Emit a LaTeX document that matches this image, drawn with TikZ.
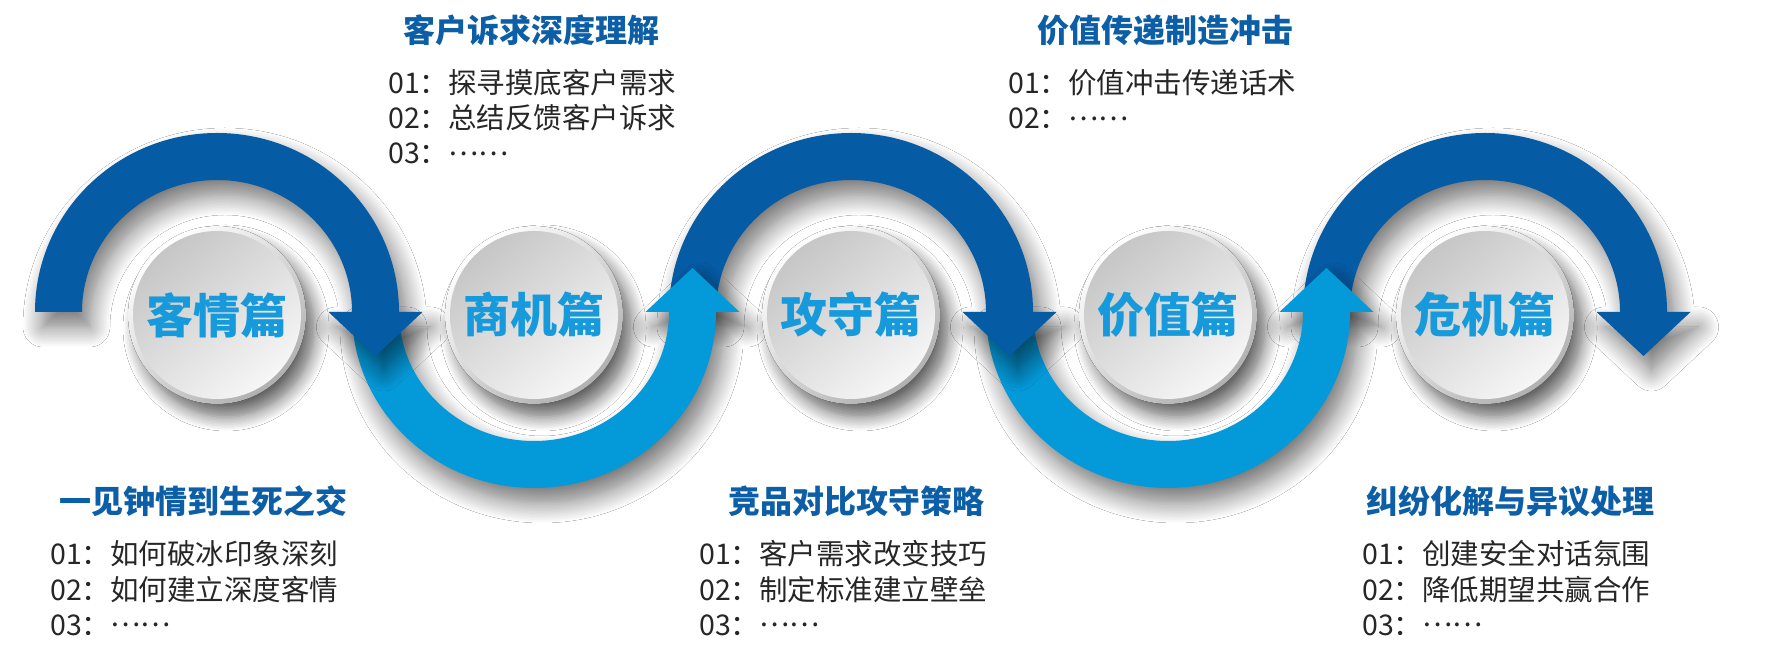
\documentclass[tikz,border=0pt]{standalone}
\usepackage{fontspec}
\setmainfont{Noto Sans CJK SC}
\newfontfamily\cjk{Noto Sans CJK SC}
\usetikzlibrary{shadows.blur}
\definecolor{archigh}{RGB}{5,91,164}
\definecolor{arclow}{RGB}{4,154,218}
\definecolor{headblue}{RGB}{12,94,166}
\definecolor{chapblue}{RGB}{22,154,219}
\definecolor{diskdark}{RGB}{198,198,198}
\definecolor{disklight}{RGB}{246,246,246}
\definecolor{rimdark}{RGB}{176,176,176}
\def\toparc[#1](#2,#3){\fill[#1] ({#2-182},#3) arc[start angle=180, end angle=0, x radius=182, y radius=179] -- ({#2+205.5},#3) -- ({#2+158.5},{#3-44}) -- ({#2+111.5},#3) -- ({#2+135},#3) arc[start angle=0, end angle=180, x radius=135, y radius=132] -- cycle;}
\def\lowarc[#1](#2,#3){\fill[#1] ({#2-182},#3) arc[start angle=180, end angle=360, x radius=182, y radius=176] -- ({#2+205.5},#3) -- ({#2+158.5},{#3+44}) -- ({#2+111.5},#3) -- ({#2+135},#3) arc[start angle=360, end angle=180, x radius=135, y radius=129] -- cycle;}
\def\dots{\raisebox{0.3em}{……}}
\tikzset{
	arcshadow/.style={blur shadow={shadow xshift=8pt, shadow yshift=-15pt, shadow blur radius=20pt, shadow blur steps=14, shadow opacity=55}},
	rim/.style={top color=white, bottom color=rimdark, shading angle=40, blur shadow={shadow xshift=9pt, shadow yshift=-13pt, shadow blur radius=14pt, shadow blur steps=10, shadow opacity=60}},
	chapter/.style={circle, minimum size=168pt, inner sep=0pt, top color=diskdark, bottom color=disklight, shading angle=40, text=chapblue, font=\cjk\bfseries\fontsize{47}{47}\selectfont},
	heading/.style={inner sep=0pt, text=headblue, font=\cjk\bfseries\fontsize{32}{32}\selectfont},
	listline/.style={anchor=west, inner sep=0pt, text height=24pt, text depth=4pt, text=black!85, font=\cjk\fontsize{28.5}{28.5}\selectfont}
}

\begin{document}
\begin{tikzpicture}[x=1pt, y=1pt]
			%%%%% START %%%%%
			
			\fill[white] (0,0) rectangle (1784,661);
			\useasboundingbox (0,0) rectangle (1784,661);
			
			\toparc[archigh, arcshadow](1485,349)
			\lowarc[arclow, arcshadow](1168,349)
			\toparc[archigh, arcshadow](851,349)
			\lowarc[arclow, arcshadow](534,349)
			\toparc[archigh, arcshadow](217,349)
			
			\fill[rim] (217,346) circle[radius=89];
			\node[chapter] (qing) at (217,346) {客情篇};
			\fill[rim] (534,346) circle[radius=89];
			\node[chapter] (shang) at (534,346) {商机篇};
			\fill[rim] (851,346) circle[radius=89];
			\node[chapter] (gong) at (851,346) {攻守篇};
			\fill[rim] (1168,346) circle[radius=89];
			\node[chapter] (jia) at (1168,346) {价值篇};
			\fill[rim] (1485,346) circle[radius=89];
			\node[chapter] (wei) at (1485,346) {危机篇};
			
			\node[heading] (headqing) at (203.5,160) {一见钟情到生死之交};
			\node[listline] (qing1) at (50,106) {01：如何破冰印象深刻};
			\node[listline] (qing2) at (50,71) {02：如何建立深度客情};
			\node[listline] (qing3) at (50,36) {03：\dots};
			
			\node[heading] (headshang) at (531,631) {客户诉求深度理解};
			\node[listline] (shang1) at (388,577) {01：探寻摸底客户需求};
			\node[listline] (shang2) at (388,542) {02：总结反馈客户诉求};
			\node[listline] (shang3) at (388,507) {03：\dots};
			
			\node[heading] (headgong) at (856,160) {竞品对比攻守策略};
			\node[listline] (gong1) at (699,106) {01：客户需求改变技巧};
			\node[listline] (gong2) at (699,71) {02：制定标准建立壁垒};
			\node[listline] (gong3) at (699,36) {03：\dots};
			
			\node[heading] (headjia) at (1165.5,631) {价值传递制造冲击};
			\node[listline] (jia1) at (1008,577) {01：价值冲击传递话术};
			\node[listline] (jia2) at (1008,542) {02：\dots};
			
			\node[heading] (headwei) at (1510.5,160) {纠纷化解与异议处理};
			\node[listline] (wei1) at (1362,106) {01：创建安全对话氛围};
			\node[listline] (wei2) at (1362,71) {02：降低期望共赢合作};
			\node[listline] (wei3) at (1362,36) {03：\dots};
			
			%%%%% END %%%%%
\end{tikzpicture}
\end{document}
